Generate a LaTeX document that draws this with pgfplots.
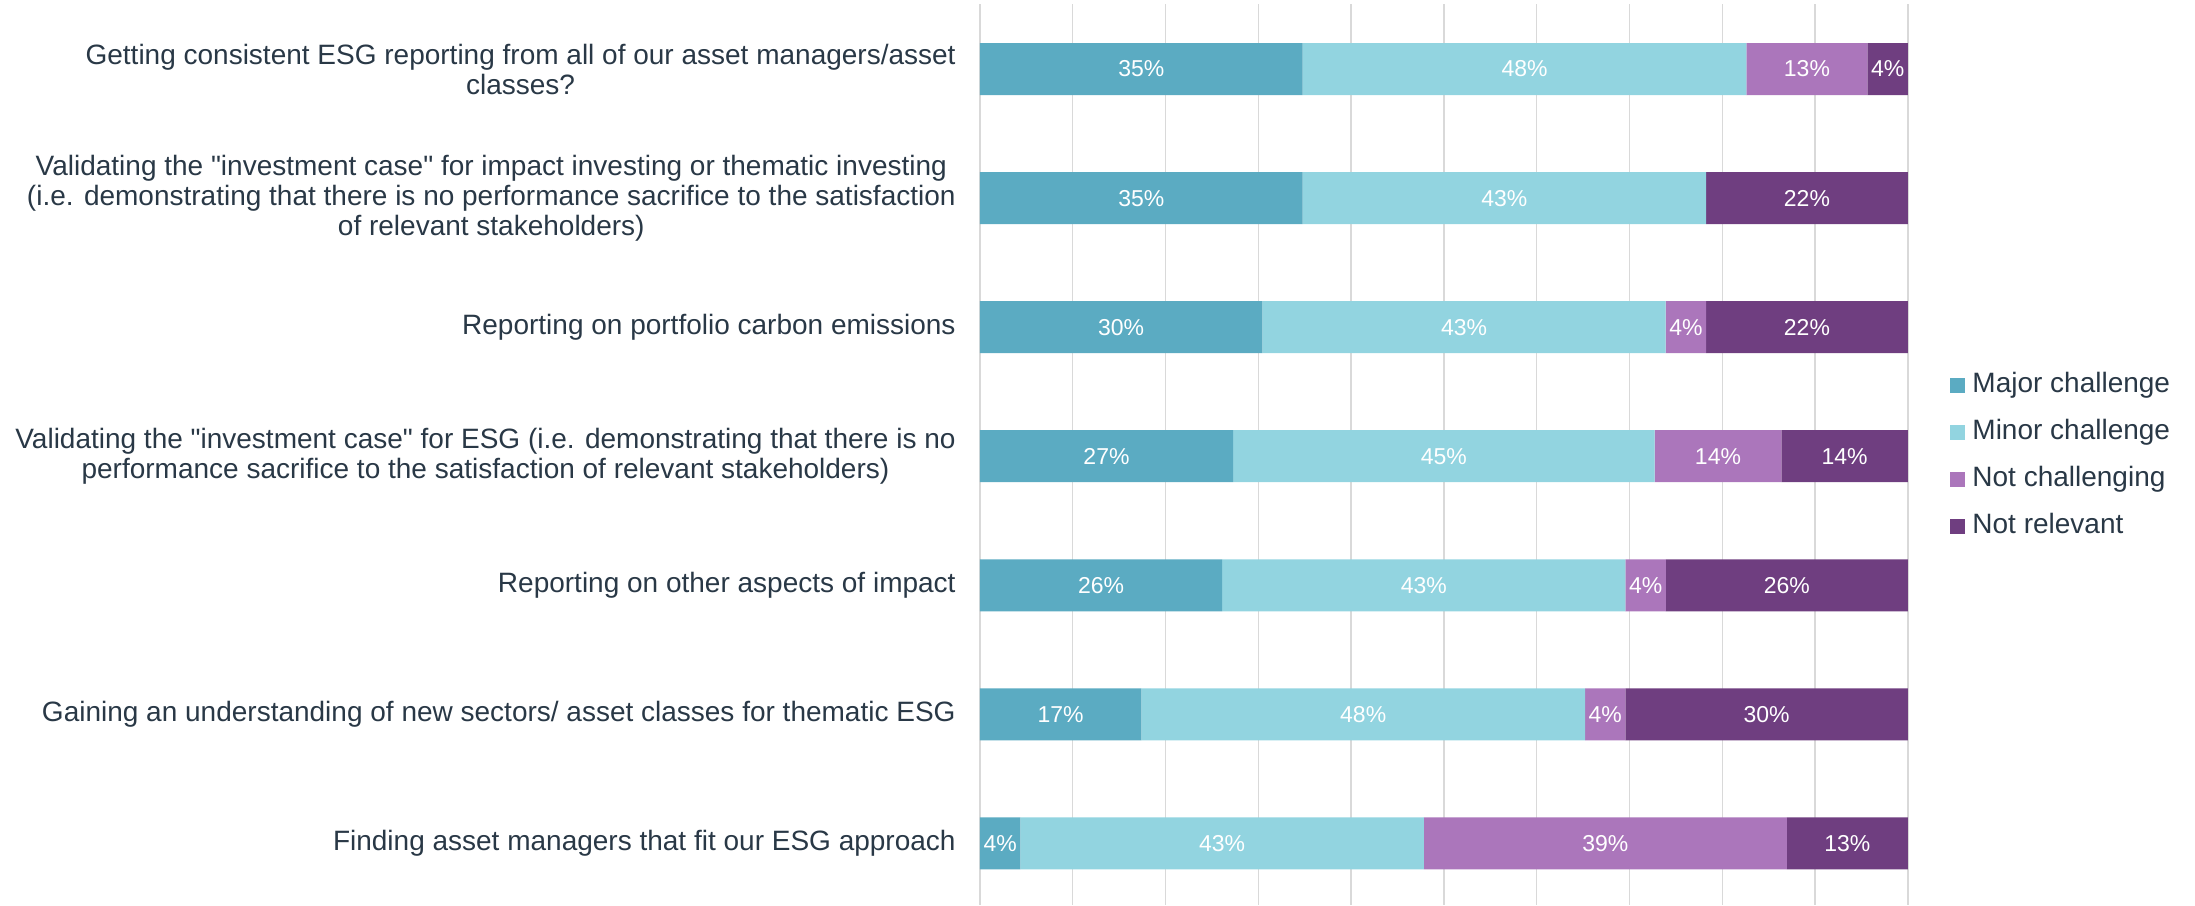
\documentclass[border=0pt]{standalone}
\usepackage{pgfplots}
\pgfplotsset{compat=1.18}
\usepackage{pgfplotstable}
\usepackage{fontspec}
\setmainfont{Liberation Sans}[Ligatures=TeXOff]
\definecolor{txt}{RGB}{41,56,70}
\definecolor{cmaj}{RGB}{91,171,194}
\definecolor{cmin}{RGB}{146,212,224}
\definecolor{cnotc}{RGB}{171,118,187}
\definecolor{cnotr}{RGB}{111,62,128}
\definecolor{gridc}{RGB}{217,217,217}
\pgfplotstableread{
idx maj min notc notr
0 34.78 47.83 13.04 4.35
1 34.78 43.48 0 21.74
2 30.43 43.48 4.35 21.74
3 27.27 45.45 13.64 13.64
4 26.09 43.48 4.35 26.08
5 17.39 47.83 4.35 30.43
6 4.35 43.48 39.13 13.04
}\data
\pgfplotsset{
  seg/.style={fill=#1, draw=none},
}
\begin{document}
\begin{tikzpicture}
\useasboundingbox (-490pt,0pt) rectangle (607.5pt,452.5pt);
\begin{axis}[
  at={(0pt,0pt)}, anchor=south west,
  width=464pt, height=450.25pt, scale only axis,
  xbar stacked, bar width=26pt,
  xmin=0, xmax=100.02,
  y dir=reverse, ymin=-0.5, ymax=6.477,
  xtick={0,10,...,100}, xticklabels={},
  xmajorgrids, grid style={draw=gridc, line width=0.7pt},
  ytick={0,1,2,3,4,5,6},
  yticklabels={
    {Getting consistent ESG reporting from all of our asset managers/asset\\classes?},
    {Validating the "investment case" for impact investing or thematic investing\\(i.e. demonstrating that there is no performance sacrifice to the satisfaction\\of relevant stakeholders)},
    {Reporting on portfolio carbon emissions},
    {Validating the "investment case" for ESG (i.e. demonstrating that there is no\\performance sacrifice to the satisfaction of relevant stakeholders)},
    {Reporting on other aspects of impact},
    {Gaining an understanding of new sectors/ asset classes for thematic ESG},
    {Finding asset managers that fit our ESG approach}},
  yticklabel style={align=center, font=\fontsize{14}{15}\selectfont, text=txt, inner xsep=0pt, xshift=-12pt},
  axis line style={draw=none}, tick style={draw=none},
  point meta=explicit,
  nodes near coords={\pgfmathfloatifflags{\pgfplotspointmeta}{0}{}{\pgfmathprintnumber[fixed,precision=0,assume math mode=true]{\pgfplotspointmeta}\%}},
  nodes near coords align={center},
  every node near coord/.append style={font=\fontsize{11.5}{12}\selectfont, text=white, anchor=center, inner sep=0pt},
  legend style={at={(1.0453,0.4986)}, anchor=west, draw=none, fill=none, inner sep=0pt,
    font=\fontsize{14}{16}\selectfont, text=txt, row sep=10.4pt,
    nodes={inner sep=0pt, text height=10pt, text depth=3pt},
    /tikz/every odd column/.append style={column sep=3.5pt}},
  legend cell align=left,
  legend image code/.code={\fill[#1] (0pt,-3.75pt) rectangle (7.5pt,3.75pt);},
]
\addplot[seg=cmaj] table[x=maj,y=idx,meta=maj]{\data};
\addplot[seg=cmin] table[x=min,y=idx,meta=min]{\data};
\addplot[seg=cnotc] table[x=notc,y=idx,meta=notc]{\data};
\addplot[seg=cnotr] table[x=notr,y=idx,meta=notr]{\data};
\legend{Major challenge, Minor challenge, Not challenging, Not relevant}
\end{axis}
\end{tikzpicture}
\end{document}
